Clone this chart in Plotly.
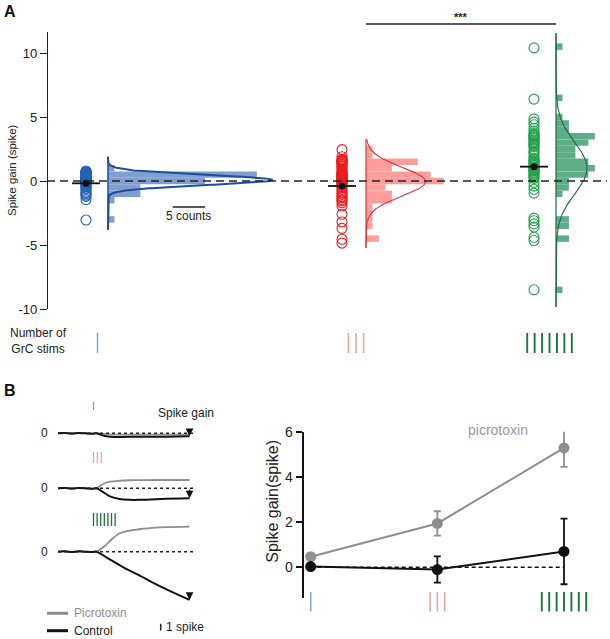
import numpy as np
import plotly.graph_objects as go

W, H = 610, 639
def fx(px): return px / W
def fy(py): return 1 - py / H

FONT = "Liberation Sans, Arial, sans-serif"

# ---------------- DATA: panel A ----------------
blue_points = [0.78, 0.72, 0.7, 0.68, 0.65, 0.62, 0.6, 0.58, 0.55, 0.52, 0.5, 0.48, 0.46,
               0.44, 0.42, 0.4, 0.38, 0.36, 0.34, 0.32, 0.3, 0.29, 0.27, 0.26,
               0.22, 0.2, 0.17, 0.15, 0.12, 0.1, 0.06, 0.03, 0.0, -0.03, -0.07, -0.1,
               -0.14, -0.18, -0.22, -0.3, -0.38, -0.45, -0.55, -0.62,
               -0.8, -0.9, -1.0, -1.1, -1.2, -1.45, -3.05]
red_points = [2.45, 1.9, 1.7, 1.65, 1.6, 1.55, 1.5, 1.45, 1.4, 1.3, 1.2, 1.1, 1.0, 0.85,
              0.7, 0.65, 0.6, 0.55, 0.5, 0.45, 0.4, 0.35, 0.3, 0.27,
              0.22, 0.18, 0.14, 0.1, 0.06, 0.02, -0.02, -0.06, -0.1, -0.14, -0.18, -0.22,
              -0.35, -0.5, -0.65, -0.8, -0.95, -1.05, -1.2, -1.3, -1.45, -1.55, -1.7,
              -1.95, -2.6, -3.2, -3.7, -4.55, -4.85]
green_points = [10.4, 6.4, 4.85, 4.6, 4.4, 4.1, 3.9, 3.7, 3.6, 3.55, 3.5, 3.4, 3.3,
                3.2, 3.1, 3.0, 2.9, 2.8, 2.7, 2.5, 2.3, 2.2, 2.0, 1.8,
                1.7, 1.6, 1.5, 1.4, 1.3, 1.2, 1.1, 1.0, 0.9, 0.85, 0.8,
                0.7, 0.6, 0.5, 0.4, 0.3, 0.2, -0.1, -0.4, -0.65, -0.95,
                -2.9, -3.1, -3.35, -3.6, -4.4, -4.65, -8.5]
group_means = [-0.18, -0.39, 1.12]

blue_bins = [1.0, 0.5, 0.0, -0.5, -1.0, -1.5, -3.0]
blue_counts = [1, 23, 15, 5, 5, 1, 1]
red_bins = [2.5, 2.0, 1.5, 1.0, 0.5, 0.0, -0.5, -1.0, -1.5, -2.0, -2.5, -3.0, -3.5, -4.5]
red_counts = [1, 1, 8, 4, 10, 12, 3, 4, 4, 1, 1, 1, 1, 2]
green_bins = [10.5, 6.5, 5.0, 4.5, 4.0, 3.5, 3.0, 2.5, 2.0, 1.5, 1.0, 0.5, 0.0, -0.5, -1.0,
              -3.0, -3.5, -4.5, -8.5]
green_counts = [1, 1, 1, 2, 2, 6, 5, 3, 3, 5, 6, 5, 2, 2, 1, 2, 2, 2, 1]
bin_width = 0.5

# Gaussian fit parameters (amplitude in counts, mean, sd)
blue_fit = (25.4, 0.08, 0.39)
red_fit = (9.2, -0.05, 1.12)
green_fit = (4.8, 1.0, 2.0)

a_tickvals = [-10, -5, 0, 5, 10]
a_ticktext = ["-10", "-5", "0", "5", "10"]

# ---------------- DATA: panel B ----------------
t1 = [0, 5, 10, 15, 20, 25, 28, 31, 34, 38, 45, 60, 80, 96]
ctrl1 = [0, 0.05, -0.05, 0.05, 0, -0.05, 0, -0.2, -0.4, -0.5, -0.55, -0.5, -0.5, -0.45]
picro1 = [0, 0.05, -0.05, 0.05, 0, -0.05, 0, -0.05, -0.1, -0.15, -0.2, -0.2, -0.2, -0.2]
t2 = [0, 5, 10, 15, 20, 25, 28, 31, 34, 38, 45, 52, 60, 75, 96]
ctrl2 = [0, 0.05, -0.05, 0.05, 0, -0.05, 0, -0.3, -0.7, -1.2, -1.6, -1.72, -1.72, -1.6, -1.5]
picro2 = [0, 0.05, -0.05, 0.05, 0, -0.05, 0, 0.4, 0.75, 0.98, 1.13, 1.2, 1.22, 1.24, 1.24]
t3 = [0, 5, 10, 15, 20, 25, 28, 35, 40, 45, 52, 59, 71, 80, 96]
ctrl3 = [0, 0.05, -0.05, 0.05, 0, -0.05, 0, -0.8, -1.4, -2.0, -2.8, -3.5, -4.8, -5.7, -7.2]
picro3 = [0, 0.05, -0.05, 0.05, 0, -0.05, 0, 1.0, 2.0, 2.75, 3.15, 3.35, 3.6, 3.68, 3.75]

stim_counts = [1, 3, 7]
picro_mean = [0.47, 1.94, 5.28]
picro_err = [0.0, 0.54, 0.84]
ctrl_mean = [0.03, -0.10, 0.70]
ctrl_err = [0.0, 0.58, 1.45]
b_tickvals = [0, 2, 4, 6]

# ---------------- STYLE ----------------
C_BLUE_PT = "#2463b7"; C_BLUE_BAR = "#809ecf"; C_BLUE_LN = "#1b4e9b"; C_BLUE_STIM = "#8aa4c8"
C_RED_PT = "#ec1d1d"; C_RED_BAR = "#fc9d9d"; C_RED_LN = "#e6332f"; C_RED_STIM = "#f3a0a3"
C_GRN_PT = "#23a04c"; C_GRN_BAR = "#5dae88"; C_GRN_LN = "#1c6b3c"; C_GRN_STIM = "#1d7440"
C_GRAY = "#8e8e8e"

fig = go.Figure()
layout = dict(width=W, height=H, margin=dict(l=0, r=0, t=0, b=0, pad=0, autoexpand=False),
              paper_bgcolor="white", plot_bgcolor="rgba(0,0,0,0)",
              showlegend=False, barmode="overlay",
              font=dict(family=FONT, size=12, color="#222"))

shapes = []
annotations = []


def ann(text, x, y, xref="paper", yref="paper", size=12, color="#222", xanchor="center",
        yanchor="middle", **kw):
    d = dict(text=text, x=x, y=y, xref=xref, yref=yref, showarrow=False, xanchor=xanchor,
             yanchor=yanchor, font=dict(size=size, family=FONT, color=color))
    d.update(kw)
    annotations.append(d)


# main panel A axes (x in pixel units across the figure)
A_ZERO_PX, A_PXU = 181.0, 12.8
A_BOT, A_TOP = 309.0, 32.0
a_range = [-(A_BOT - A_ZERO_PX) / A_PXU, (A_ZERO_PX - A_TOP) / A_PXU]
layout["xaxis"] = dict(domain=[0, 1], range=[0, W], visible=False, anchor="y", fixedrange=True)
layout["yaxis"] = dict(domain=[fy(A_BOT), fy(A_TOP)], range=a_range, anchor="free",
                       position=fx(47), showline=True, linecolor="#222", linewidth=1.4,
                       ticks="outside", ticklen=7, tickwidth=1.4, tickcolor="#222",
                       tickvals=a_tickvals, ticktext=a_ticktext, showgrid=False, zeroline=False,
                       tickfont=dict(size=13, family=FONT, color="#222"))

GROUP_X = [86, 342, 534]
BASE_PX = [108, 366, 556]
HIST_W = [192, 104, 52]
CNT_PX = 6.47
PAD = 6

groups = [
    (blue_points, blue_bins, blue_counts, blue_fit, C_BLUE_PT, C_BLUE_BAR, C_BLUE_LN, 2.0, (1.9, -3.8)),
    (red_points, red_bins, red_counts, red_fit, C_RED_PT, C_RED_BAR, C_RED_LN, 1.1, (3.28, -5.23)),
    (green_points, green_bins, green_counts, green_fit, C_GRN_PT, C_GRN_BAR, C_GRN_LN, 1.1, (11.54, -9.82)),
]

for i, (pts, bins, counts, fit, cpt, cbar, cln, lw, (b_hi, b_lo)) in enumerate(groups):
    ax_name = f"xaxis{i + 2}"
    xref = f"x{i + 2}"
    layout[ax_name] = dict(domain=[fx(BASE_PX[i] - PAD), fx(min(W, BASE_PX[i] + HIST_W[i]))],
                           range=[-PAD / CNT_PX, (min(W, BASE_PX[i] + HIST_W[i]) - BASE_PX[i]) / CNT_PX],
                           visible=False, anchor="y", fixedrange=True)
    fig.add_trace(go.Bar(y=bins, x=counts, orientation="h", width=bin_width,
                         marker=dict(color=cbar, line=dict(width=0)),
                         xaxis=xref, yaxis="y", hoverinfo="skip"))
    amp, mu, sd = fit
    yy = np.linspace(b_lo, b_hi, 400)
    xx = amp * np.exp(-((yy - mu) ** 2) / (2 * sd ** 2))
    fig.add_trace(go.Scatter(x=xx, y=yy, mode="lines", line=dict(color=cln, width=lw),
                             xaxis=xref, yaxis="y", hoverinfo="skip"))
    shapes.append(dict(type="line", xref=xref, yref="y", x0=0, x1=0, y0=b_lo, y1=b_hi,
                       line=dict(color=cln, width=1.5 if i == 0 else 1.2)))
    fig.add_trace(go.Scatter(x=[GROUP_X[i]] * len(pts), y=pts, mode="markers",
                             marker=dict(symbol="circle-open", size=10, color=cpt,
                                         line=dict(width=1.1, color=cpt)),
                             xaxis="x", yaxis="y", hoverinfo="skip"))

fig.add_trace(go.Scatter(x=GROUP_X, y=group_means, mode="markers",
                         marker=dict(symbol="line-ew", size=20, line=dict(width=1.8, color="#111")),
                         xaxis="x", yaxis="y", hoverinfo="skip"))
fig.add_trace(go.Scatter(x=GROUP_X, y=group_means, mode="markers",
                         marker=dict(symbol="circle", size=7, color="#111"),
                         xaxis="x", yaxis="y", hoverinfo="skip"))

# zero dashed line panel A
shapes.append(dict(type="line", xref="paper", yref="y", x0=fx(47), x1=fx(607), y0=0, y1=0,
                   line=dict(color="#222", width=1.6, dash="8px,5px")))
# 5 counts scale bar (on blue histogram axis)
shapes.append(dict(type="line", xref="x2", yref="y", x0=10, x1=15, y0=-2.03, y1=-2.03,
                   line=dict(color="#222", width=1.6)))
ann("5 counts", 12.5, -2.05, xref="x2", yref="y", yshift=-9)
# significance bar
shapes.append(dict(type="line", xref="paper", yref="paper", x0=fx(366), x1=fx(556),
                   y0=fy(24), y1=fy(24), line=dict(color="#222", width=1.4)))
ann("<b>***</b>", fx(461), fy(17), size=11)

# titles / labels panel A
ann("Spike gain (spike)", fx(12), fy(170), size=11.5, textangle=-90)
ann("<b>A</b>", fx(2), fy(11), size=16, color="#111", xanchor="left")
ann("<b>B</b>", fx(2), fy(391), size=16, color="#111", xanchor="left")
ann("Number of<br>GrC stims", fx(38), fy(341))


def stim_ticks(center_px, n, spacing, y_top, y_bot, color, width):
    for k in range(n):
        xp = center_px + (k - (n - 1) / 2) * spacing
        shapes.append(dict(type="line", xref="paper", yref="paper", x0=fx(xp), x1=fx(xp),
                           y0=fy(y_bot), y1=fy(y_top), line=dict(color=color, width=width)))


stim_colors = [(C_BLUE_STIM, 1.5), (C_RED_STIM, 1.6), (C_GRN_STIM, 1.9)]
A_STIM_CENTER = [97.5, 356, 549.5]
for i, n in enumerate(stim_counts):
    stim_ticks(A_STIM_CENTER[i], n, 7.6 if n == 3 else 7.43, 333, 353, *stim_colors[i])

# ---------------- panel B left: example traces ----------------
T0_PX, T_PXU = 58.0, 1.37
SPK_PX = 6.7
rows = [(t1, ctrl1, picro1, 433.3, (-2.0, 2.0)),
        (t2, ctrl2, picro2, 488.3, (-2.5, 2.5)),
        (t3, ctrl3, picro3, 551.7, (-7.8, 4.2))]
for r, (tt, cc, pp, zpx, (lo, hi)) in enumerate(rows):
    xn = 5 + r
    layout[f"xaxis{xn}"] = dict(domain=[fx(52), fx(202)],
                                range=[(52 - T0_PX) / T_PXU, (202 - T0_PX) / T_PXU],
                                visible=False, anchor=f"y{xn}", fixedrange=True)
    layout[f"yaxis{xn}"] = dict(domain=[fy(zpx - lo * SPK_PX), fy(zpx - hi * SPK_PX)],
                                range=[lo, hi], visible=False, anchor=f"x{xn}", fixedrange=True)
    shapes.append(dict(type="line", xref=f"x{xn}", yref=f"y{xn}", x0=0, x1=(195 - T0_PX) / T_PXU,
                       y0=0, y1=0, line=dict(color="#222", width=1.4, dash="3px,3px")))
    fig.add_trace(go.Scatter(x=tt, y=pp, mode="lines", line=dict(color=C_GRAY, width=1.8, shape="spline"),
                             xaxis=f"x{xn}", yaxis=f"y{xn}", hoverinfo="skip"))
    fig.add_trace(go.Scatter(x=tt, y=cc, mode="lines", line=dict(color="#111", width=2, shape="spline"),
                             xaxis=f"x{xn}", yaxis=f"y{xn}", hoverinfo="skip"))
    ann("0", fx(50), 0, yref=f"y{xn}", xanchor="right")
    annotations.append(dict(xref=f"x{xn}", yref=f"y{xn}", x=tt[-1], y=cc[-1], ax=0,
                            ay=-10 if r == 1 else -8, text="", showarrow=True, arrowhead=2,
                            arrowsize=1.1, arrowwidth=1.4, arrowcolor="#111"))

ann("Spike gain", fx(185.5), fy(413))
B_STIM = [(3.9, 402, 410), (3.9, 452, 463), (3.6, 513, 526)]
for i, (sp, yt, yb) in enumerate(B_STIM):
    n = stim_counts[i]
    c0 = 93.5 + (n - 1) * sp / 2
    stim_ticks(c0, n, sp, yt, yb, stim_colors[i][0], 1.3)

# legend
shapes.append(dict(type="line", xref="paper", yref="paper", x0=fx(47), x1=fx(68), y0=fy(613.3),
                   y1=fy(613.3), line=dict(color=C_GRAY, width=3)))
shapes.append(dict(type="line", xref="paper", yref="paper", x0=fx(47), x1=fx(68), y0=fy(630.7),
                   y1=fy(630.7), line=dict(color="#111", width=3)))
ann("Picrotoxin", fx(72), fy(613.3), color=C_GRAY, xanchor="left")
ann("Control", fx(72), fy(630.7), xanchor="left")
shapes.append(dict(type="line", xref="paper", yref="paper", x0=fx(160.7), x1=fx(160.7),
                   y0=fy(630.5), y1=fy(630.5 - SPK_PX), line=dict(color="#222", width=1.5)))
ann("1 spike", fx(164), fy(627), xanchor="left")

# ---------------- panel B right: summary ----------------
R_X0, R_PXU = 310.7, 126.65
R_LEFT, R_RIGHT = 302.7, 600
R_ZERO, R_YPXU = 567.3, 22.6
R_TOP, R_BOT = 431.7, 598.3
layout["xaxis8"] = dict(domain=[fx(R_LEFT), fx(R_RIGHT)],
                        range=[(R_LEFT - R_X0) / R_PXU, (R_RIGHT - R_X0) / R_PXU],
                        visible=False, anchor="y8", fixedrange=True)
layout["yaxis8"] = dict(domain=[fy(R_BOT), fy(R_TOP)],
                        range=[-(R_BOT - R_ZERO) / R_YPXU, (R_ZERO - R_TOP) / R_YPXU],
                        anchor="free", position=fx(R_LEFT), showline=True, linecolor="#111",
                        linewidth=2, ticks="outside", ticklen=6, tickwidth=2, tickcolor="#111",
                        tickvals=b_tickvals, showgrid=False, zeroline=False,
                        tickfont=dict(size=14, family=FONT, color="#222"))
idx = list(range(len(stim_counts)))
shapes.append(dict(type="line", xref="x8", yref="y8", x0=0, x1=2, y0=0, y1=0,
                   line=dict(color="#111", width=1.5, dash="4px,3px")))
fig.add_trace(go.Scatter(x=idx, y=picro_mean, mode="lines+markers",
                         line=dict(color=C_GRAY, width=2),
                         marker=dict(size=11, color=C_GRAY),
                         error_y=dict(type="data", array=picro_err, color=C_GRAY, thickness=1.8, width=3.5),
                         xaxis="x8", yaxis="y8", hoverinfo="skip"))
fig.add_trace(go.Scatter(x=idx, y=ctrl_mean, mode="lines+markers",
                         line=dict(color="#111", width=2),
                         marker=dict(size=11, color="#111"),
                         error_y=dict(type="data", array=ctrl_err, color="#111", thickness=1.8, width=3.5),
                         xaxis="x8", yaxis="y8", hoverinfo="skip"))
ann("Spike gain(spike)", fx(271.7), fy(501), size=16, textangle=-90)
ann("picrotoxin", fx(498), fy(430), size=14, color="#9a9a9a")
for i, n in enumerate(stim_counts):
    cpx = R_X0 + idx[i] * R_PXU
    stim_ticks(cpx, n, 7.3 if n == 3 else 7.4, 592, 611.5, stim_colors[i][0], 1.9 if n == 7 else 1.6)

layout["shapes"] = shapes
layout["annotations"] = annotations
fig.update_layout(**layout)
fig.write_html("out.html", config={"responsive": False, "displayModeBar": False},
               post_script="document.body.style.margin='0';document.body.style.overflow='hidden';")
